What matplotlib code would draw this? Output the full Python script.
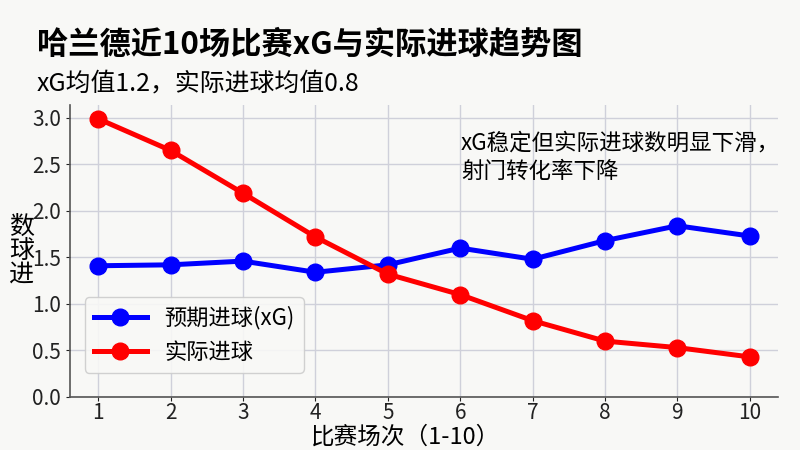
import numpy as np
from matplotlib import pyplot as plt

plt.rcParams['font.family'] = ['Noto Sans CJK SC', 'DejaVu Sans']

matches = [1, 2, 3, 4, 5, 6, 7, 8, 9, 10]
xg = [1.41, 1.42, 1.46, 1.34, 1.42, 1.60, 1.48, 1.68, 1.84, 1.73]
goals = [2.99, 2.65, 2.19, 1.72, 1.32, 1.10, 0.82, 0.60, 0.53, 0.43]
y_ticks = [0.0, 0.5, 1.0, 1.5, 2.0, 2.5, 3.0]

bg = '#f8f8f6'
fig = plt.figure(figsize=(8, 4.5), dpi=100, facecolor=bg)
ax = fig.add_axes([0.0875, 0.118, 0.885, 0.649], facecolor=bg)

ax.plot(matches, xg, color='#0000ff', lw=3.6, marker='o', ms=12, label='预期进球(xG)', zorder=3)
ax.plot(matches, goals, color='#ff0000', lw=3.6, marker='o', ms=12, label='实际进球', zorder=3)

ax.set_xlim(0.61, 10.39)
ax.set_ylim(0, 3.14)
ax.set_xticks(matches)
ax.set_yticks(y_ticks)
ax.grid(True, color='#cfd0da', lw=1.0, zorder=0)
ax.tick_params(labelsize=15, colors='#222222', length=3)
ax.tick_params(axis='x', pad=1)
for s in ['top', 'right']:
    ax.spines[s].set_visible(False)
for s in ['left', 'bottom']:
    ax.spines[s].set_color('#555555')
    ax.spines[s].set_linewidth(1.2)

ax.set_xlabel('比赛场次（1-10）', fontsize=17, va='center')
ax.xaxis.set_label_coords(0.474, -0.138)
ax.set_ylabel('数\n球\n进', fontsize=18, rotation=0, va='center', linespacing=0.9)
ax.yaxis.set_label_coords(-0.068, 0.5)

ax.text(0.552, 0.822, 'xG稳定但实际进球数明显下滑，\n射门转化率下降', transform=ax.transAxes,
        fontsize=16.2, va='center', ha='left', linespacing=1.3)

leg = ax.legend(loc='lower left', fontsize=16, bbox_to_anchor=(0.005, 0.045),
                handlelength=2.4, framealpha=0.9, edgecolor='#cccccc', facecolor=bg)

fig.text(0.046, 0.9, '哈兰德近10场比赛xG与实际进球趋势图', fontsize=22.5, fontweight='bold', va='center')
fig.text(0.046, 0.815, 'xG均值1.2，实际进球均值0.8', fontsize=17.9, va='center')

fig.savefig('out.png', dpi=100, facecolor=bg)
